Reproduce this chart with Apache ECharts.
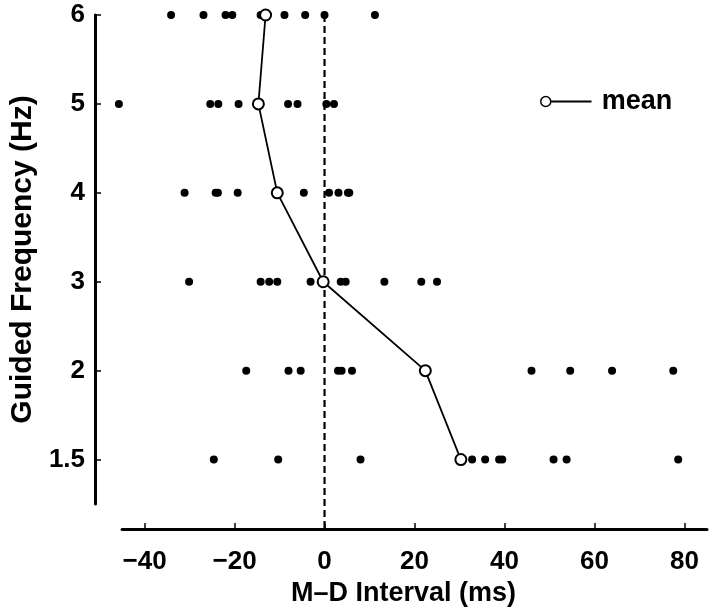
<!DOCTYPE html>
<html>
<head>
<meta charset="utf-8">
<script src="https://cdn.jsdelivr.net/npm/echarts@6/dist/echarts.min.js"></script>
<style>
html,body{margin:0;padding:0;background:#fff;}
#chart{width:718px;height:612px;}
</style>
</head>
<body>
<div id="chart"></div>
<script>
// ---- data ----
const freqLabels = ['1.5', '2', '3', '4', '5', '6'];
const xTicks = [-40, -20, 0, 20, 40, 60, 80];
const row15 = [-24.6, -10.3, 8.0, 32.8, 35.7, 38.8, 39.5, 50.9, 53.8, 78.6];
const row2  = [-17.4, -8.0, -5.3, 3.0, 3.8, 6.1, 46.0, 54.6, 63.9, 77.5];
const row3  = [-30.1, -14.2, -12.3, -10.5, -3.1, 3.6, 4.7, 13.3, 21.5, 25.0];
const row4  = [-31.1, -24.2, -23.7, -19.3, -4.6, 1.0, 3.1, 5.2, 5.5];
const row5  = [-45.7, -25.4, -23.6, -19.1, -8.1, -6.0, 0.4, 2.1];
const row6  = [-34.1, -26.9, -22.0, -20.5, -14.2, -8.9, -4.3, 0.0, 11.2];
const means = [30.3, 22.4, -0.3, -10.5, -14.7, -13.1];
const zeroRef = 0;

// ---- layout ----
const W = 718, H = 612;
const gridTop = 15, gridBottom = 103, gridLeft = 116, gridRight = 11;
const xAxisOffset = 25, yAxisOffset = 27;
const yMin = -0.5, yMax = 5;
const pxPerY = (H - gridTop - gridBottom) / (yMax - yMin);
const yExt = yMin - xAxisOffset / pxPerY;

const rows = [row15, row2, row3, row4, row5, row6];
const scatterData = [];
rows.forEach((r, i) => r.forEach(v => scatterData.push([v, i])));
const meanData = means.map((m, i) => [m, i]);

const font = 'Liberation Sans, Arial, Helvetica, sans-serif';
const chart = echarts.init(document.getElementById('chart'), null, {renderer: 'canvas'});
chart.setOption({
  animation: false,
  backgroundColor: '#fff',
  textStyle: {fontFamily: font, color: '#000'},
  grid: {left: gridLeft, right: gridRight, top: gridTop, bottom: gridBottom, containLabel: false},
  legend: {
    left: 540, top: 88, padding: 0,
    itemWidth: 50, itemHeight: 10,
    data: [{name: 'mean', icon: 'path://M0,5A5,5,0,1,1,10,5A5,5,0,1,1,0,5ZM10,4.7L50,4.7L50,5.3L10,5.3Z'}],
    itemStyle: {color: '#fff', borderColor: '#000', borderWidth: 1.5},
    textStyle: {fontFamily: font, fontSize: 27, fontWeight: 'bold', color: '#000', padding: [0, 0, 0, 6]}
  },
  xAxis: {
    type: 'value', min: -45, max: 85, offset: xAxisOffset,
    name: 'M\u2013D Interval (ms)', nameLocation: 'middle', nameGap: 51,
    nameTextStyle: {fontFamily: font, fontSize: 27, fontWeight: 'bold', color: '#000', padding: [0, 22, 0, 0]},
    axisLine: {show: true, onZero: false, lineStyle: {color: '#000', width: 3}},
    axisTick: {show: true, inside: true, length: 6, lineStyle: {color: '#000', width: 1.5}, customValues: xTicks},
    axisLabel: {customValues: xTicks, margin: 20, fontFamily: font, fontSize: 26, fontWeight: 'bold', color: '#000',
      formatter: v => (v < 0 ? '\u2212' + Math.abs(v) : String(v))},
    splitLine: {show: false}
  },
  yAxis: {
    type: 'value', min: yMin, max: yMax, offset: yAxisOffset,
    name: 'Guided Frequency (Hz)', nameLocation: 'middle', nameGap: 44, nameRotate: 90,
    nameTextStyle: {fontFamily: font, fontSize: 30, fontWeight: 'bold', color: '#000'},
    axisLine: {show: true, onZero: false, lineStyle: {color: '#000', width: 3}},
    axisTick: {show: true, inside: true, length: 6, lineStyle: {color: '#000', width: 1.5}, customValues: [0, 1, 2, 3, 4, 5]},
    axisLabel: {customValues: [0, 1, 2, 3, 4, 5], margin: 10, fontFamily: font, fontSize: 26, fontWeight: 'bold', color: '#000',
      formatter: v => freqLabels[Math.round(v)]},
    splitLine: {show: false}
  },
  series: [
    {
      name: 'zero', type: 'line', silent: true, clip: false, z: 1,
      data: [[zeroRef, yMax], [zeroRef, yExt]],
      symbol: 'none',
      lineStyle: {color: '#000', width: 2.2, type: [7, 4]}
    },
    {
      name: 'trials', type: 'scatter', clip: false, z: 2,
      data: scatterData, symbol: 'circle', symbolSize: 8,
      itemStyle: {color: '#000', opacity: 1}
    },
    {
      name: 'mean', type: 'line', clip: false, z: 3,
      data: meanData, symbol: 'circle', symbolSize: 11, showAllSymbol: true,
      itemStyle: {color: '#fff', borderColor: '#000', borderWidth: 2, opacity: 1},
      lineStyle: {color: '#000', width: 1.8}
    }
  ]
});
</script>
</body>
</html>
